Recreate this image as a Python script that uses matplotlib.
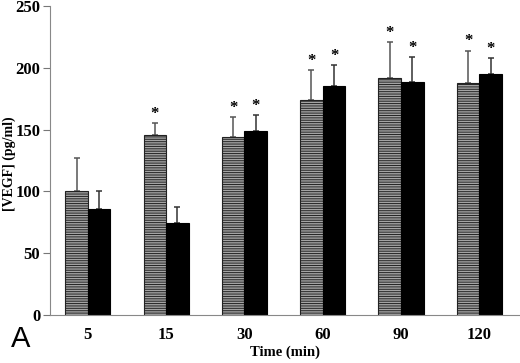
import numpy as np
import matplotlib
matplotlib.use('Agg')
import matplotlib.pyplot as plt

times = ['5', '15', '30', '60', '90', '120']
grey_vals = [100, 145.5, 144, 174, 192, 188]
grey_err = [27, 10, 16, 24, 29, 26]
black_vals = [85.5, 74, 149, 185, 188.5, 195]
black_err = [14.5, 13, 13, 17, 20, 13]
grey_star = [False, True, True, True, True, True]
black_star = [False, False, True, True, True, True]

plt.rcParams['hatch.linewidth'] = 0.7
plt.rcParams['hatch.color'] = '#555555'

fig = plt.figure(figsize=(5.2, 3.63), dpi=100)
ax = fig.add_axes([0.096, 0.133, 0.904, 0.85])

x = np.arange(len(times))
w = 0.288

serif = {'family': 'Liberation Serif', 'weight': 'bold'}

ax.bar(x - w/2, grey_vals, w, color='#a4a4a4', edgecolor='#222222', linewidth=0.8,
       hatch='-------', zorder=2)
ax.bar(x + w/2, black_vals, w, color='black', edgecolor='black', linewidth=0.8, zorder=2)

ax.errorbar(x - w/2, grey_vals, yerr=[np.zeros(len(x)), grey_err], fmt='none',
            ecolor='#555555', elinewidth=1.1, capsize=2, capthick=1.1, zorder=1)
ax.errorbar(x + w/2, black_vals, yerr=[np.zeros(len(x)), black_err], fmt='none',
            ecolor='#333333', elinewidth=1.1, capsize=2, capthick=1.1, zorder=1)

for i in range(len(x)):
    if grey_star[i]:
        ax.text(x[i] - w/2, grey_vals[i] + grey_err[i] + 1.0, '*', ha='center', va='bottom',
                fontsize=12, fontdict=serif)
    if black_star[i]:
        ax.text(x[i] + w/2, black_vals[i] + black_err[i] + 1.0, '*', ha='center', va='bottom',
                fontsize=12, fontdict=serif)

ax.set_xlim(-0.485, 5.52)
ax.set_ylim(0, 250)
ax.set_yticks([0, 50, 100, 150, 200, 250])
ax.set_xticks(x)
ax.set_xticklabels(times)
ax.tick_params(axis='x', length=0, pad=9)
ax.tick_params(axis='y', length=5, width=0.8, color='#777777', pad=2)
for lab in ax.get_xticklabels() + ax.get_yticklabels():
    lab.set_fontfamily('Liberation Serif')
    lab.set_fontweight('bold')
    lab.set_fontsize(12)

ax.spines['top'].set_visible(False)
ax.spines['right'].set_visible(False)
ax.spines['left'].set_color('#888888')
ax.spines['bottom'].set_color('#888888')
ax.spines['left'].set_linewidth(0.8)
ax.spines['bottom'].set_linewidth(0.8)

ax.set_xlabel('Time (min)', fontdict=serif, fontsize=10.5)
ax.set_ylabel('[VEGF] (pg/ml)', fontdict=serif, fontsize=10)
ax.xaxis.set_label_coords(0.5, -0.100)
ax.yaxis.set_label_coords(-0.073, 0.49)

fig.text(0.04, 0.065, 'A', fontsize=21, family='Liberation Sans', ha='center', va='center')

fig.savefig('out.png', dpi=100)
